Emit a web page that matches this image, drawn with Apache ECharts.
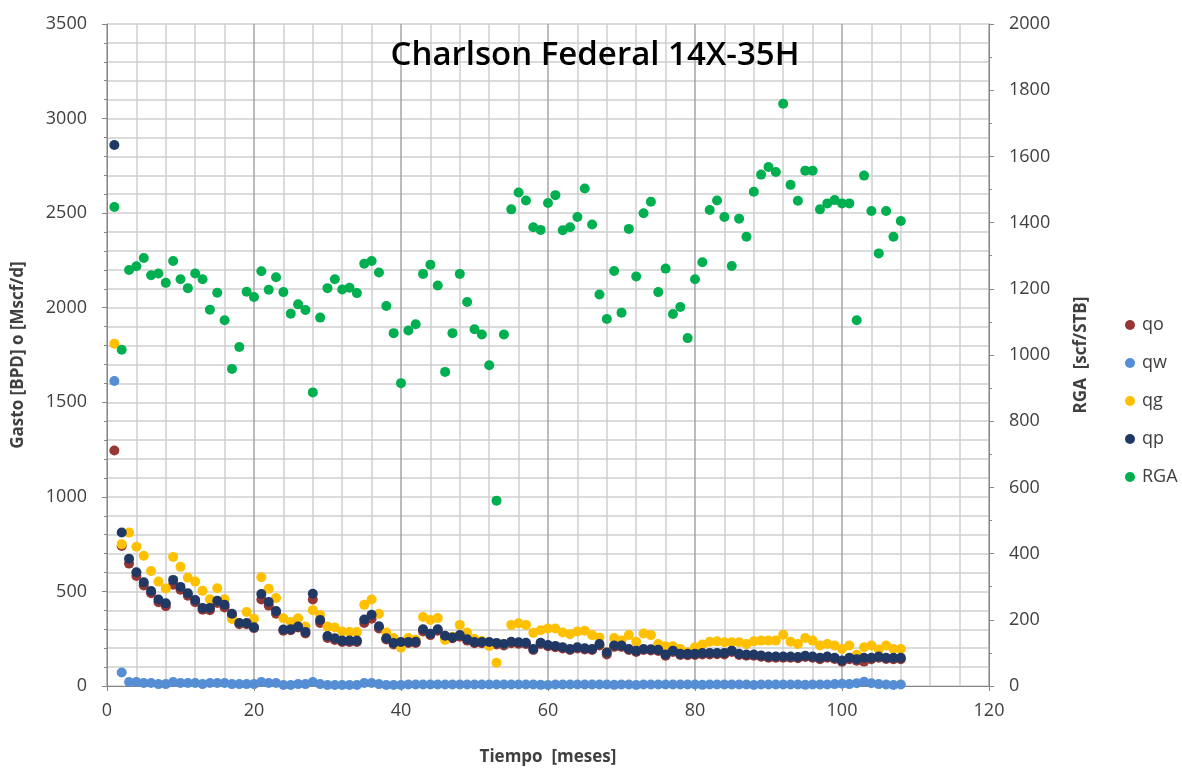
<!DOCTYPE html>
<html>
<head>
<meta charset="utf-8">
<script src="https://cdn.jsdelivr.net/npm/echarts@6/dist/echarts.min.js"></script>
<style>
html,body{margin:0;padding:0;background:#fff;}
#chart{width:1182px;height:771px;}
</style>
</head>
<body>
<div id="chart"></div>
<script>
const title = 'Charlson Federal 14X-35H';
const xTicks = [0, 20, 40, 60, 80, 100, 120];
const leftTicks = [0, 500, 1000, 1500, 2000, 2500, 3000, 3500];
const rightTicks = [0, 200, 400, 600, 800, 1000, 1200, 1400, 1600, 1800, 2000];

// monthly values, month 1 .. 108
const qo = [1245,740,647,582,531,490,443,422,535,509,
  477,443,403,401,439,415,375,326,326,306,
  457,425,382,292,295,309,278,457,333,254,
  243,233,233,233,333,356,304,246,220,228,
  228,228,288,269,292,257,252,260,240,226,
  226,226,220,214,226,224,222,190,222,210,
  205,198,190,198,193,190,214,167,207,207,
  190,180,190,188,185,160,180,164,163,164,
  167,167,168,167,180,164,160,160,155,150,
  150,150,150,147,153,150,142,150,143,128,
  142,134,129,142,150,143,142,142];
const qw = [1613,71,21,21,16,16,10,10,21,16,
  16,16,10,16,16,16,10,10,10,10,
  21,16,16,5,5,10,10,21,10,5,
  5,5,5,5,16,16,10,5,5,5,
  8,8,8,8,8,8,8,8,8,8,
  8,8,8,8,8,8,8,8,6,5,
  8,8,8,8,8,8,8,8,6,8,
  8,5,8,8,8,8,8,8,8,8,
  6,8,8,8,8,8,8,5,8,8,
  8,8,8,8,6,8,8,8,10,12,
  10,15,22,15,10,8,5,8];
const qg = [1810,750,811,736,689,608,552,516,682,630,
  573,552,503,458,517,458,354,333,391,356,
  575,514,465,358,339,358,314,401,375,314,
  309,288,285,285,429,457,382,283,254,203,
  254,245,365,349,359,243,260,323,283,248,
  238,212,123,222,323,332,323,281,295,304,
  304,283,274,288,292,269,257,179,254,240,
  269,234,278,269,222,210,210,196,179,205,
  219,234,236,231,231,231,222,236,240,240,
  240,271,234,222,254,240,214,222,214,196,
  214,165,205,214,193,214,196,196];
const qp = [2860,812,673,601,548,502,457,437,561,524,
  490,455,413,413,451,430,382,333,333,311,
  486,444,396,299,300,314,286,488,349,264,
  252,240,240,240,351,377,316,252,228,233,
  233,234,300,276,300,266,257,269,247,233,
  233,233,228,222,234,231,229,196,229,217,
  212,205,196,205,200,196,222,177,214,214,
  196,187,196,194,191,167,187,170,170,170,
  174,174,174,174,187,170,167,167,161,156,
  156,156,156,153,160,156,149,156,149,135,
  149,142,149,149,156,149,149,149];
const rga = [1447,1016,1257,1268,1293,1241,1246,1218,1284,1229,
  1202,1246,1229,1137,1188,1105,958,1024,1191,1175,
  1253,1197,1235,1190,1125,1153,1136,887,1113,1202,
  1229,1198,1203,1187,1276,1284,1249,1148,1066,915,
  1074,1093,1245,1273,1210,949,1066,1245,1160,1078,
  1062,969,560,1062,1440,1491,1467,1386,1378,1459,
  1483,1377,1386,1417,1503,1394,1183,1109,1254,1128,
  1381,1237,1428,1463,1190,1261,1124,1145,1051,1229,
  1280,1438,1467,1417,1269,1412,1357,1493,1545,1568,
  1553,1759,1514,1466,1557,1557,1440,1458,1468,1458,
  1458,1105,1542,1435,1307,1435,1357,1405];

const seriesNames = ['qo', 'qw', 'qg', 'qp', 'RGA'];
const seriesColors = ['#953735', '#558ED5', '#FFC000', '#1F3864', '#00B050'];

function pts(arr) { return arr.map((v, i) => [i + 1, v]); }
const plain = v => String(v);

const FONT = 'Open Sans';
const chart = echarts.init(document.getElementById('chart'), null, {renderer: 'canvas'});
const mk = (name, arr, idx, yIdx) => ({
  name: name, type: 'scatter', yAxisIndex: yIdx, data: pts(arr),
  symbol: 'circle', symbolSize: 10,
  itemStyle: {color: seriesColors[idx], opacity: 1},
  emphasis: {disabled: true}, animation: false
});

chart.setOption({
  backgroundColor: '#ffffff',
  animation: false,
  textStyle: {fontFamily: FONT},
  title: {
    text: title, left: 590, top: 34, textAlign: 'center',
    textStyle: {fontFamily: FONT, fontSize: 33, fontWeight: 600, color: '#000'}
  },
  legend: {
    orient: 'vertical', left: 1120, top: 311,
    itemWidth: 10, itemHeight: 10, itemGap: 20,
    icon: 'circle',
    textStyle: {fontFamily: FONT, fontSize: 18, color: '#404040', padding: [0, 0, 0, 2]},
    data: seriesNames
  },
  grid: {left: 107, right: 193, top: 24, bottom: 75, containLabel: false},
  xAxis: {
    type: 'value', min: xTicks[0], max: xTicks[xTicks.length - 1], interval: 20,
    name: 'Tiempo  [meses]', nameLocation: 'middle', nameGap: 63,
    nameTextStyle: {fontFamily: FONT, fontSize: 17, fontWeight: 'bold', color: '#404040'},
    axisLine: {show: true, lineStyle: {color: '#868686', width: 1}},
    axisTick: {show: true, inside: false, length: 5, lineStyle: {color: '#868686'}},
    axisLabel: {fontFamily: FONT, fontSize: 18, color: '#404040', margin: 16, formatter: plain},
    splitLine: {show: true, lineStyle: {color: '#A6A6A6', width: 1.5}},
    minorTick: {show: false, splitNumber: 5},
    minorSplitLine: {show: true, lineStyle: {color: '#D0D0D0', width: 1.5}}
  },
  yAxis: [{
    type: 'value', min: leftTicks[0], max: leftTicks[leftTicks.length - 1], interval: 500,
    name: 'Gasto [BPD] o [Mscf/d]', nameLocation: 'middle', nameGap: 80, nameRotate: 90,
    nameTextStyle: {fontFamily: FONT, fontSize: 17, fontWeight: 'bold', color: '#404040'},
    axisLine: {show: true, lineStyle: {color: '#868686', width: 1}},
    axisTick: {show: true, inside: false, length: 5, lineStyle: {color: '#868686'}},
    minorTick: {show: true, splitNumber: 5, length: 3, lineStyle: {color: '#868686'}},
    axisLabel: {fontFamily: FONT, fontSize: 18, color: '#404040', margin: 20, formatter: plain},
    splitLine: {show: true, lineStyle: {color: '#D0D0D0', width: 1.5}},
    minorSplitLine: {show: true, lineStyle: {color: '#D0D0D0', width: 1.5}}
  }, {
    type: 'value', min: rightTicks[0], max: rightTicks[rightTicks.length - 1], interval: 200,
    position: 'right',
    name: 'RGA  [scf/STB]', nameLocation: 'middle', nameGap: 84, nameRotate: 90,
    nameTextStyle: {fontFamily: FONT, fontSize: 17, fontWeight: 'bold', color: '#404040'},
    axisLine: {show: true, lineStyle: {color: '#868686', width: 1}},
    axisTick: {show: true, inside: false, length: 5, lineStyle: {color: '#868686'}},
    minorTick: {show: true, splitNumber: 2, length: 3, lineStyle: {color: '#868686'}},
    axisLabel: {fontFamily: FONT, fontSize: 18, color: '#404040', margin: 20, formatter: plain},
    splitLine: {show: false}
  }],
  series: [
    mk('qo', qo, 0, 0),
    mk('qw', qw, 1, 0),
    mk('qg', qg, 2, 0),
    mk('qp', qp, 3, 0),
    mk('RGA', rga, 4, 1)
  ]
});
</script>
</body>
</html>
